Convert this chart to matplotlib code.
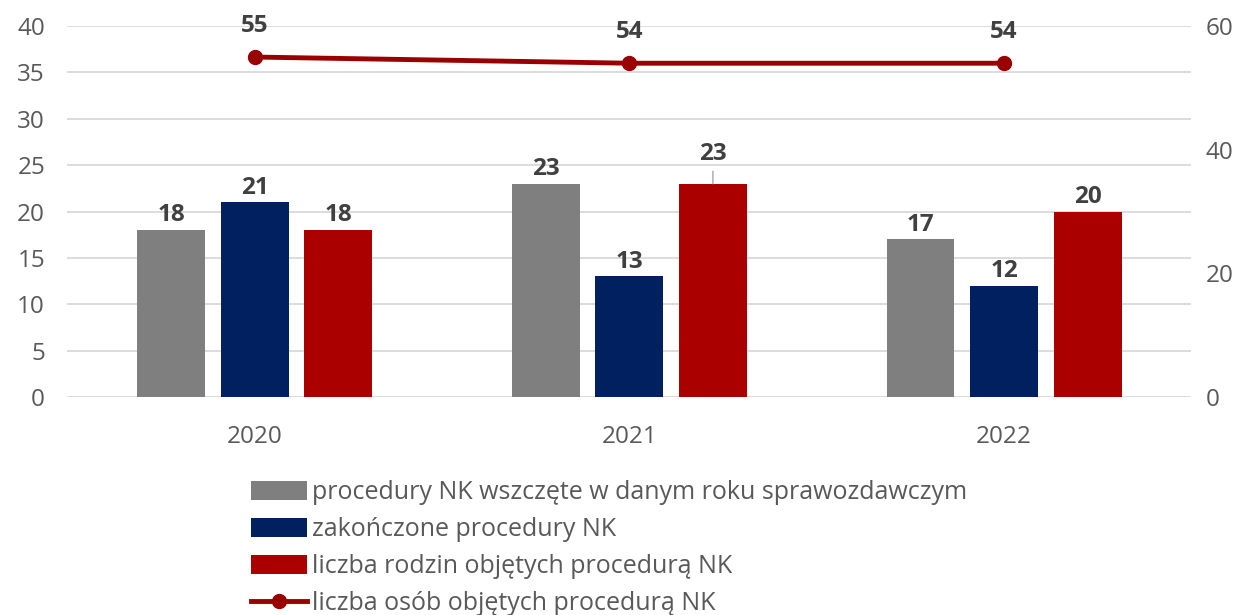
import matplotlib.pyplot as plt
import numpy as np

plt.rcParams['font.family'] = ['Open Sans', 'DejaVu Sans']

years = ['2020', '2021', '2022']
wszczete = [18, 23, 17]
zakonczone = [21, 13, 12]
rodziny = [18, 23, 20]
osoby = [55, 54, 54]

labels = ['procedury NK wszczęte w danym roku sprawozdawczym',
          'zakończone procedury NK',
          'liczba rodzin objętych procedurą NK',
          'liczba osób objętych procedurą NK']

c_gray = '#7F7F7F'
c_navy = '#002060'
c_red = '#AA0000'
c_line = '#990000'
c_txt = '#595959'
fs = 17.5

fig = plt.figure(figsize=(12.45, 6.15), dpi=100)
ax = fig.add_axes([0.054, 0.3545, 0.903, 0.603])
ax2 = ax.twinx()

x = np.arange(len(years))
w = 0.181
off = 0.223
b1 = ax.bar(x - off, wszczete, w, color=c_gray, label=labels[0], zorder=3)
b2 = ax.bar(x, zakonczone, w, color=c_navy, label=labels[1], zorder=3)
b3 = ax.bar(x + off, rodziny, w, color=c_red, label=labels[2], zorder=3)

for k, (bars, vals) in enumerate([(b1, wszczete), (b2, zakonczone), (b3, rodziny)]):
    for i, (b, v) in enumerate(zip(bars, vals)):
        cx = b.get_x() + b.get_width() / 2
        if k == 2 and i == 1:
            # label pushed up with a leader line
            ax.annotate(str(v), (cx, v), xytext=(0, 13), textcoords='offset points',
                        ha='center', va='bottom', fontsize=fs, fontweight='bold',
                        color='#404040',
                        arrowprops=dict(arrowstyle='-', color='#A6A6A6', lw=1,
                                        shrinkA=2, shrinkB=0))
        else:
            ax.annotate(str(v), (cx, v), xytext=(0, 2), textcoords='offset points',
                        ha='center', va='bottom', fontsize=fs, fontweight='bold',
                        color='#404040')

ax.set_xlim(-0.5, 2.5)
ax.set_ylim(0, 40)
ax.set_yticks(range(0, 41, 5))
ax.set_xticks(x)
ax.set_xticklabels(years)
ax.grid(axis='y', color='#D9D9D9', linewidth=1.3, zorder=0)
ax.set_axisbelow(True)

ln, = ax2.plot(x, osoby, color=c_line, linewidth=3.5, marker='o', markersize=10,
               label=labels[3], zorder=4)
for xi, v in zip(x, osoby):
    ax2.annotate(str(v), (xi, v), xytext=(0, 14), textcoords='offset points',
                 ha='center', va='bottom', fontsize=fs, fontweight='bold', color='#404040')
ax2.set_ylim(0, 60)
ax2.set_yticks([0, 20, 40, 60])

for a in (ax, ax2):
    for s in a.spines.values():
        s.set_visible(False)
    a.tick_params(length=0, labelsize=fs, colors=c_txt)
ax.tick_params(axis='x', pad=20)
ax.tick_params(axis='y', pad=16)
ax2.tick_params(axis='y', pad=10)

fig.legend(handles=[b1, b2, b3, ln], labels=labels, loc='upper left',
           bbox_to_anchor=(241 / 1245, 1 - 470 / 615), frameon=False,
           fontsize=18, labelcolor=c_txt, handlelength=2.25, handleheight=0.8,
           handletextpad=0.2, labelspacing=0.48, borderaxespad=0)

fig.savefig('out.png', dpi=100)
